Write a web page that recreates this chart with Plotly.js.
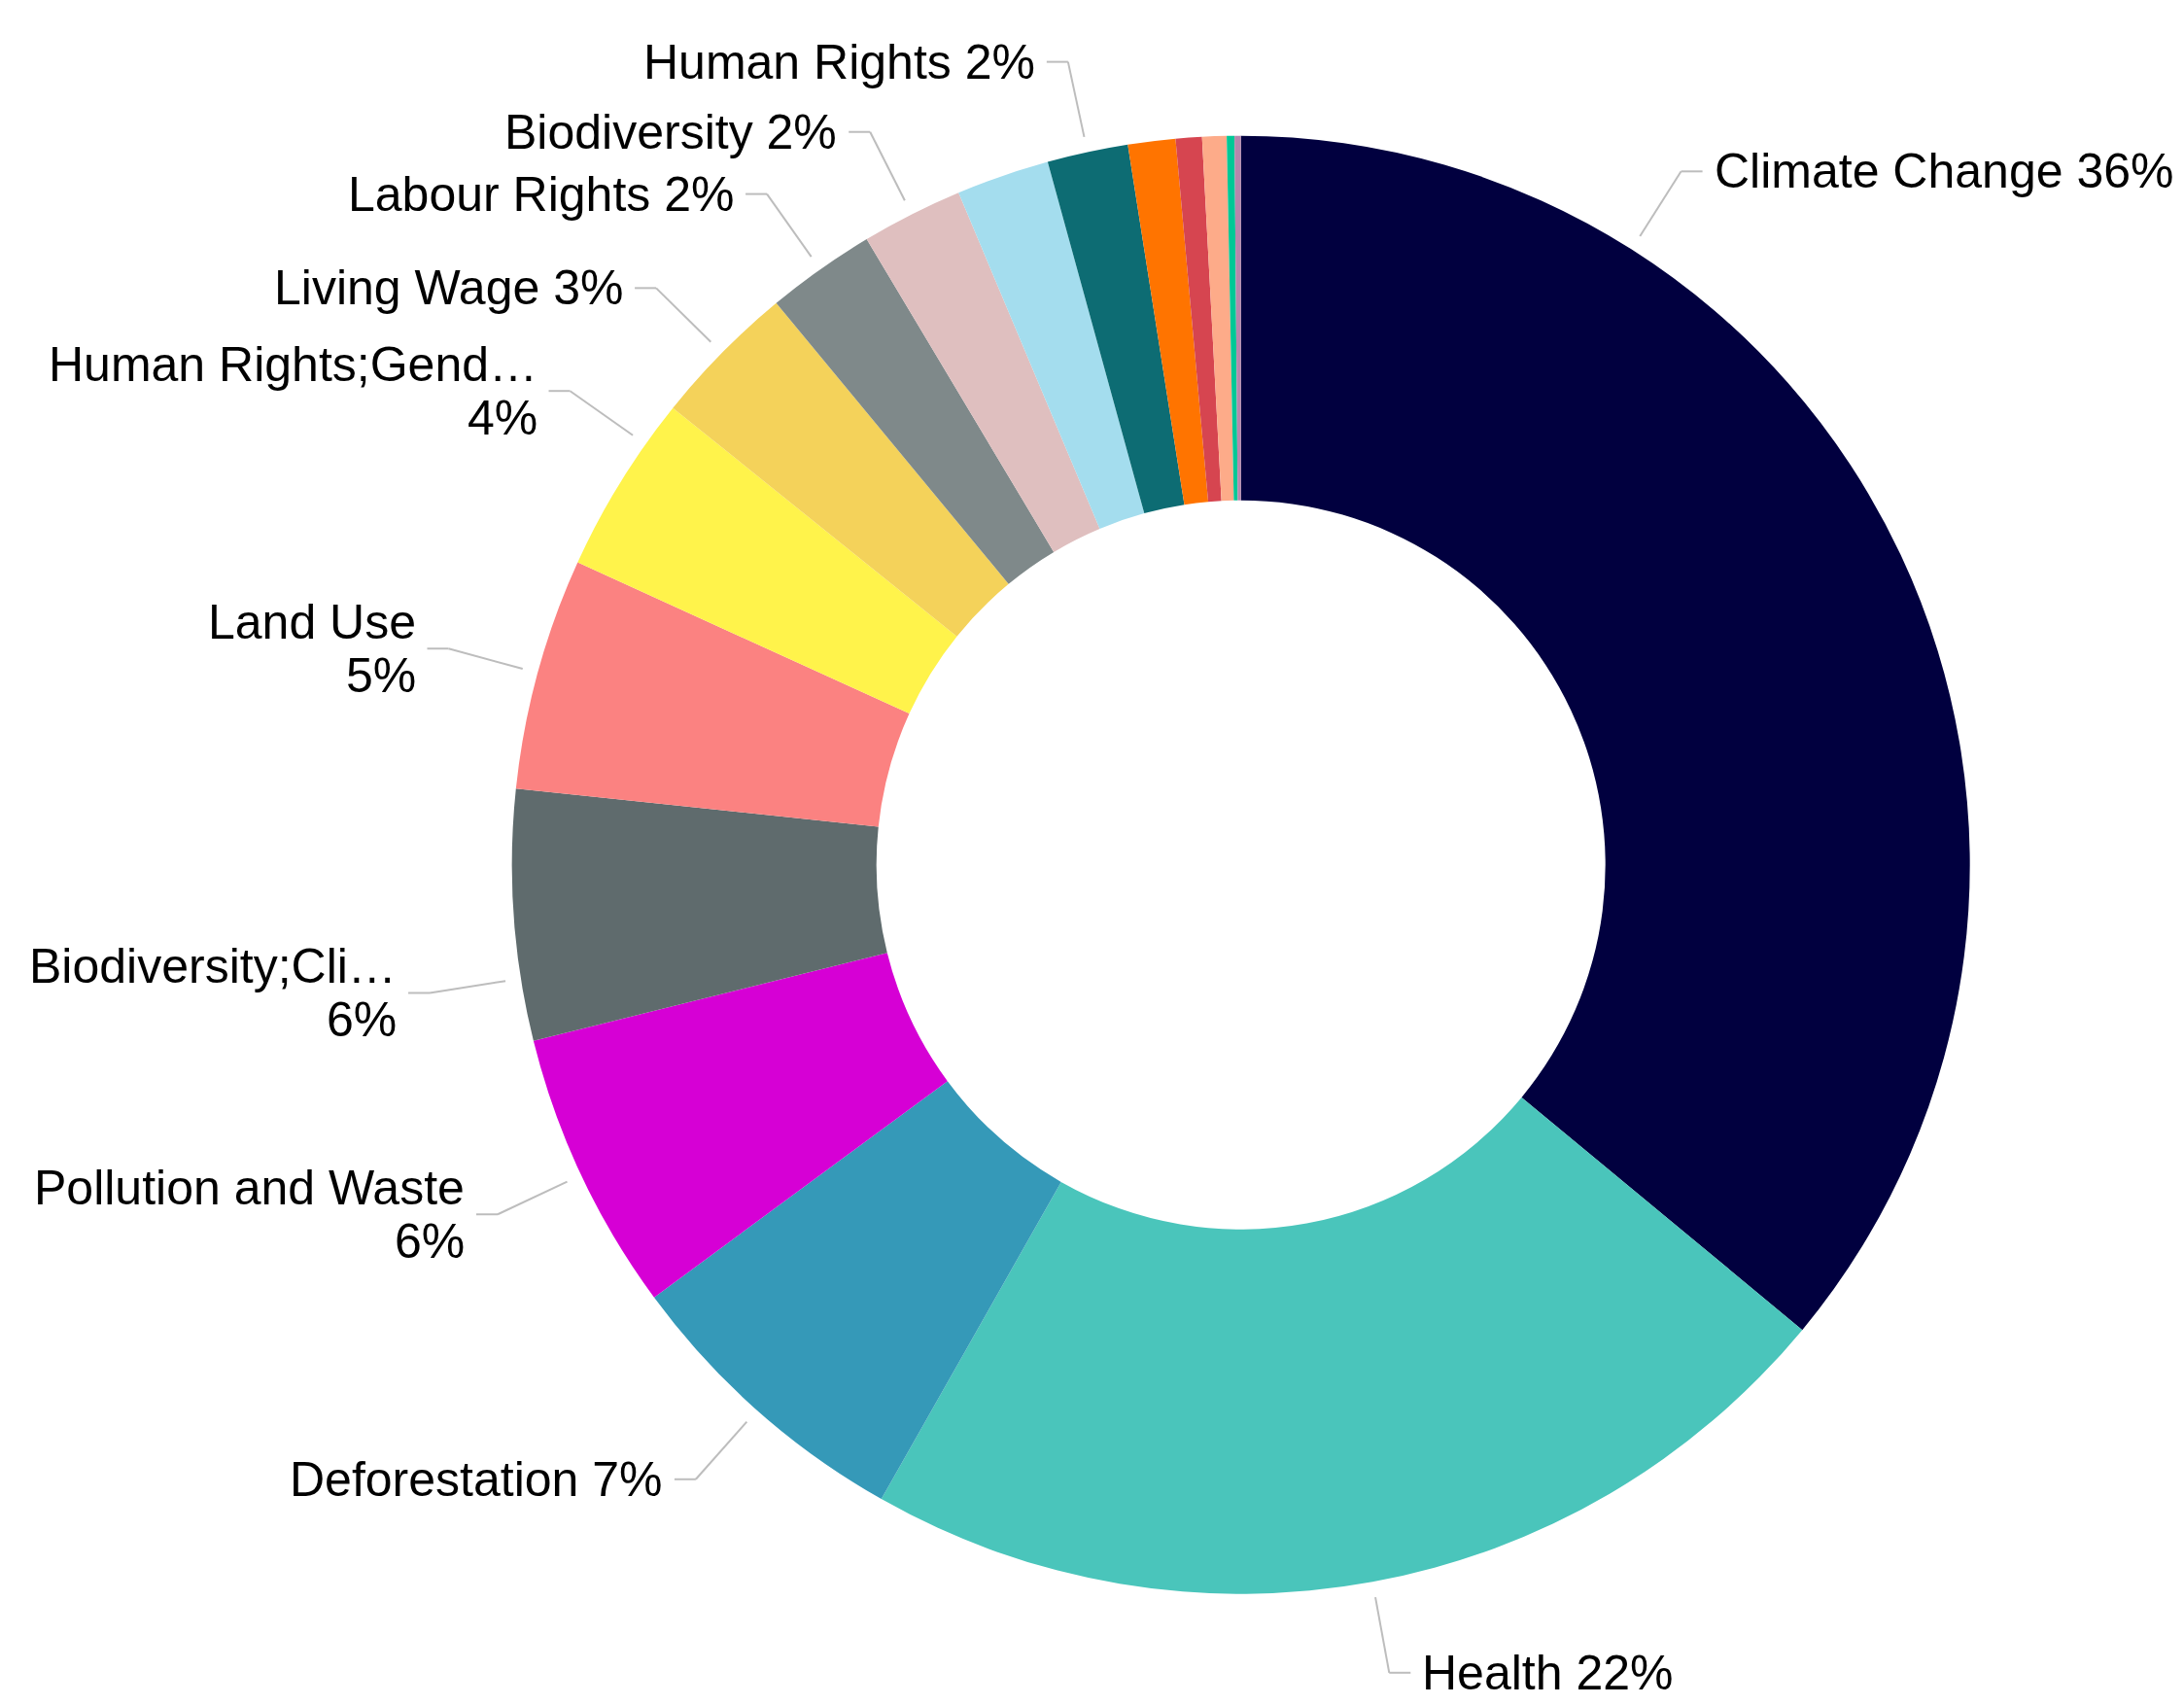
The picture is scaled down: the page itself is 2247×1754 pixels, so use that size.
<!DOCTYPE html>
<html>
<head>
<meta charset="utf-8">
<script src="https://cdn.plot.ly/plotly-3.0.1.min.js"></script>
<style>
  html, body { margin: 0; padding: 0; background: #ffffff; }
  #chart { width: 2247px; height: 1754px; }
</style>
</head>
<body>
<div id="chart"></div>
<script>
// ---------------- DATA ----------------
const categories = [
  "Climate Change", "Health", "Deforestation", "Pollution and Waste",
  "Biodiversity;Cli…", "Land Use", "Human Rights;Gend…", "Living Wage",
  "Labour Rights", "Biodiversity", "Unlabelled slice 1", "Human Rights",
  "Unlabelled slice 2", "Unlabelled slice 3", "Unlabelled slice 4",
  "Unlabelled slice 5", "Unlabelled slice 6"
];
const values = [
  36.01, 22.20, 6.68, 6.23,
  5.55, 5.14, 3.97, 3.22,
  2.42, 2.25, 2.06, 1.79,
  1.05, 0.58, 0.54,
  0.17, 0.14
];
// which slices carry a visible data label in the reference
const showLabel = [true, true, true, true, true, true, true, true, true, true, false, true, false, false, false, false, false];

// ---------------- STYLE ----------------
const colors = [
  "#01003F", "#4AC5BB", "#3599B8", "#D600D5",
  "#5F6B6D", "#FB8281", "#FFF34B", "#F4D25A",
  "#7F898A", "#DFBFBF", "#A4DDEE", "#0D6C73",
  "#FF7400", "#D64550", "#FDAB89",
  "#00C896", "#B687AC"
];
// label placement style (position along slice arc and line wrapping)
const labelAnchorFrac = [0.25, 0.5, 0.5, 0.5, 0.25, 0.5, 0.75, 0.5, 0.5, 0.5, 0.5, 0.5, 0.5, 0.5, 0.5, 0.5, 0.5];
const labelWrap = [false, false, false, true, true, true, true, false, false, false, false, false, false, false, false, false, false];

const W = 2247, H = 1754;
const CX = 1276.7, CY = 889.7, R = 750;
const HOLE = 0.5;
const LINE_R0 = R + 16;     // leader line start radius
const LINE_R1 = R + 95;     // elbow radius
const HSEG = 22;            // horizontal leader segment
const TGAP = 11;            // gap between leader and text
const LINE_H = 55;          // two-line label spacing
const FONT = { family: "Liberation Sans, Arial, Helvetica, sans-serif", size: 50, color: "#000000" };
const LEADER = { color: "#BDBDBD", width: 2 };

// ---------------- BUILD ----------------
const px = x => x / W;
const py = y => 1 - y / H;

const total = values.reduce((a, b) => a + b, 0);
const annotations = [];
const shapes = [];
let cum = 0;
values.forEach((v, i) => {
  const a0 = cum / total * 360;
  cum += v;
  const a1 = cum / total * 360;
  if (!showLabel[i]) return;
  const ang = (a0 + (a1 - a0) * labelAnchorFrac[i]) * Math.PI / 180;
  const s = Math.sin(ang), c = Math.cos(ang);
  const x0 = CX + s * LINE_R0, y0 = CY - c * LINE_R0;
  const x1 = CX + s * LINE_R1, y1 = CY - c * LINE_R1;
  const right = s >= 0;
  const dir = right ? 1 : -1;
  const x2 = x1 + dir * HSEG;
  shapes.push({ type: "line", xref: "paper", yref: "paper", x0: px(x0), y0: py(y0), x1: px(x1), y1: py(y1), line: LEADER });
  shapes.push({ type: "line", xref: "paper", yref: "paper", x0: px(x1), y0: py(y1), x1: px(x2), y1: py(y1), line: LEADER });
  const pct = Math.round(v / total * 100) + "%";
  const lines = labelWrap[i] ? [categories[i], pct] : [categories[i] + " " + pct];
  const tx = x2 + dir * TGAP;
  lines.forEach((t, k) => {
    const ty = y1 + (k - (lines.length - 1) / 2) * LINE_H;
    annotations.push({
      xref: "paper", yref: "paper", x: px(tx), y: py(ty),
      xanchor: right ? "left" : "right", yanchor: "middle",
      align: right ? "left" : "right",
      text: t, showarrow: false, font: FONT, borderpad: 0
    });
  });
});

const trace = {
  type: "pie",
  labels: categories,
  values: values,
  sort: false,
  direction: "clockwise",
  rotation: 0,
  hole: HOLE,
  textinfo: "none",
  hoverinfo: "skip",
  marker: { colors: colors, line: { width: 0 } },
  domain: { x: [px(CX - R), px(CX + R)], y: [py(CY + R), py(CY - R)] }
};

const layout = {
  width: W, height: H,
  margin: { l: 0, r: 0, t: 0, b: 0, pad: 0 },
  paper_bgcolor: "#ffffff",
  plot_bgcolor: "#ffffff",
  showlegend: false,
  annotations: annotations,
  shapes: shapes
};

Plotly.newPlot("chart", [trace], layout, { staticPlot: true, displayModeBar: false });
</script>
</body>
</html>
